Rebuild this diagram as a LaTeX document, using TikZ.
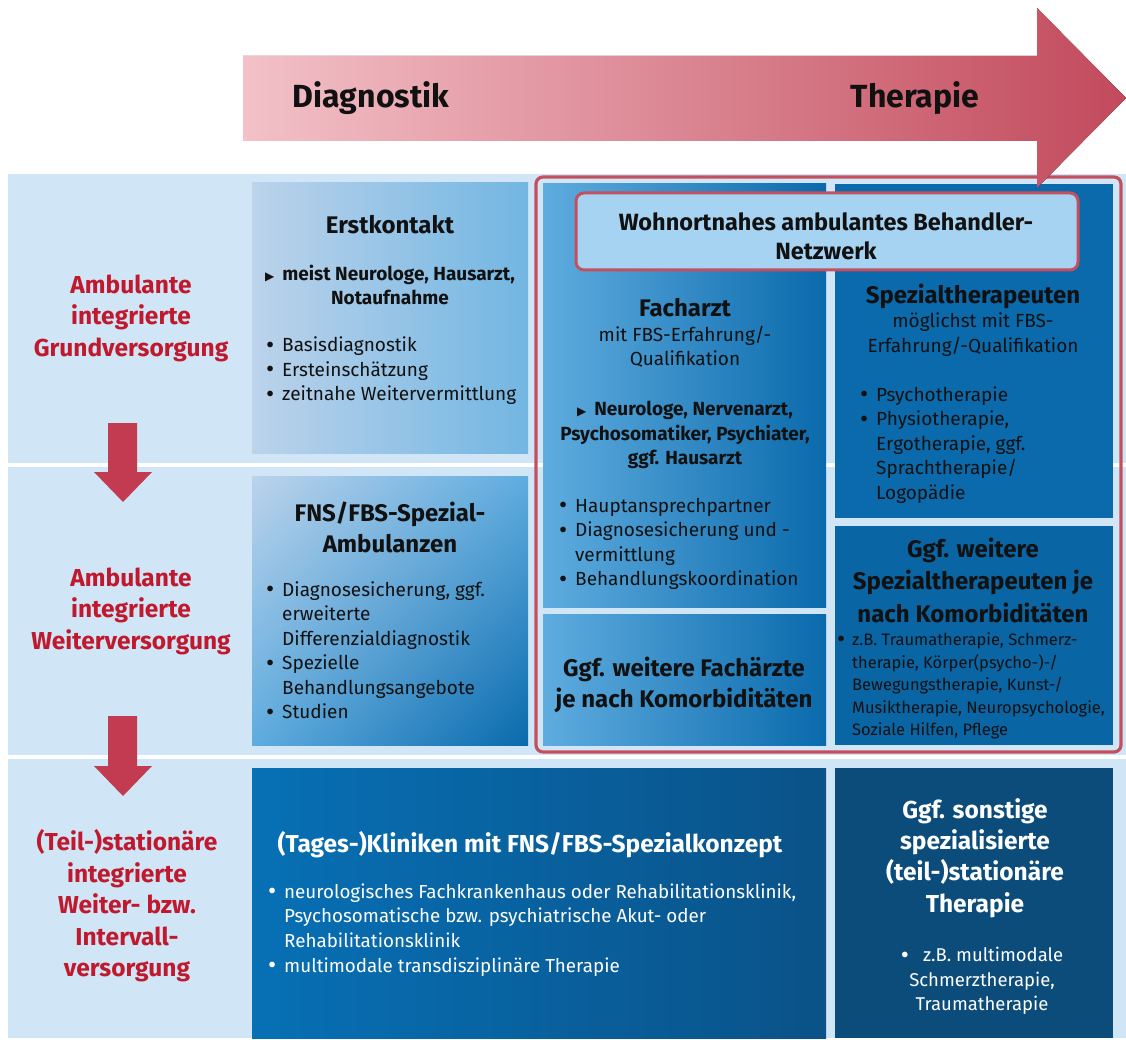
\documentclass[tikz,border=0pt]{standalone}
\usepackage{fontspec}
\usetikzlibrary{shadings}
\setmainfont{Fira Sans}
\newfontfamily\symfont{DejaVu Sans}
\definecolor{rowblue}{HTML}{D0E5F5}
\definecolor{labelred}{HTML}{C0192E}
\definecolor{arrowred}{HTML}{C23B50}
\definecolor{framered}{HTML}{C4505F}
\definecolor{ink}{HTML}{111111}
\definecolor{lightA}{HTML}{BCD3EB}
\definecolor{lightB}{HTML}{72B6E2}
\definecolor{midblue}{HTML}{5FACDF}
\definecolor{deepblue}{HTML}{0A6AAC}
\definecolor{netfill}{HTML}{A6D3F2}
\definecolor{clinicA}{HTML}{0770B5}
\definecolor{clinicB}{HTML}{0A5288}
\definecolor{navy}{HTML}{0B4C7B}
\definecolor{pinkA}{HTML}{F3C1C8}
\definecolor{pinkB}{HTML}{C24A5C}
\newcommand{\tri}{{\symfont\fontsize{12}{12}\selectfont ▶}\hspace{8pt}}
\newcommand{\bigdot}{\raisebox{-1.6pt}{\fontsize{25}{25}\selectfont •}}
\newcommand{\bul}{\makebox[16pt][l]{\bigdot}}
\newcommand{\ind}{\hspace*{16pt}}
\begin{document}
\begin{tikzpicture}[x=1pt,y=-1pt,
  hd/.style={font=\bfseries\fontsize{24}{31}\selectfont, align=center, text=ink, inner sep=0},
  sub/.style={font=\fontsize{19}{24.5}\selectfont, align=center, text=ink, inner sep=0},
  subbold/.style={font=\bfseries\fontsize{19}{24.5}\selectfont, align=center, text=ink, inner sep=0},
  lst/.style={font=\fontsize{19}{24.5}\selectfont, align=left, text=ink, anchor=west, inner sep=0},
  lbl/.style={font=\bfseries\fontsize{24.5}{31.5}\selectfont, align=center, text=labelred, inner sep=0},
  downarrow/.style={fill=arrowred},
]
\useasboundingbox (0,0) rectangle (1126,1040);
\fill[white] (0,0) rectangle (1126,1040);

% row backgrounds
\fill[rowblue] (8,174) rectangle (1126,463);
\fill[rowblue] (8,467) rectangle (1126,755);
\fill[rowblue] (8,759) rectangle (1126,1038);

% diagnostics column
\fill[left color=lightA, right color=lightB] (252,183) rectangle (528,453);
\fill[upper left=lightA, upper right=midblue, lower left=midblue, lower right=deepblue] (252,476) rectangle (528,745);

% outpatient network frame and its boxes
\fill[left color=midblue, right color=deepblue] (543,184) rectangle (826,607);
\fill[deepblue] (835,184) rectangle (1113,518);
\fill[left color=midblue, right color=deepblue] (543,614) rectangle (826,745);
\fill[deepblue!95!black] (835,526) rectangle (1113,745);
\draw[framered, line width=3.2pt, rounded corners=7pt] (536,177) rectangle (1121,752);
\draw[framered, line width=3pt, rounded corners=8pt, fill=netfill] (576,193) rectangle (1078,270);

% inpatient row
\fill[left color=clinicA, right color=clinicB] (252,768) rectangle (826,1038);
\fill[navy] (835,768) rectangle (1113,1038);

% downward arrows between rows
\fill[downarrow] (108,423) -- (137,423) -- (137,472) -- (152,472) -- (123,502) -- (94,472) -- (108,472) -- cycle;
\fill[downarrow] (108,716) -- (137,716) -- (137,766) -- (152,766) -- (123,796) -- (94,766) -- (108,766) -- cycle;

% process arrow
\fill[left color=pinkA, right color=pinkB] (243,56) -- (1037,56) -- (1037,8) -- (1126,98) -- (1037,188) -- (1037,141) -- (243,141) -- cycle;
\node[font=\bfseries\fontsize{32}{36}\selectfont, text=ink] (diag) at (371,98) {Diagnostik};
\node[font=\bfseries\fontsize{32}{36}\selectfont, text=ink] (ther) at (915,98) {Therapie};

% row labels
\node[lbl] (l1) at (131,318) {Ambulante\\integrierte\\Grundversorgung};
\node[lbl] (l2) at (131,611) {Ambulante\\integrierte\\Weiterversorgung};
\node[lbl] (l3) at (127,906) {(Teil-)stationäre\\integrierte\\Weiter- bzw.\\Intervall-\\versorgung};

% Erstkontakt
\node[hd] (ek) at (390,225) {Erstkontakt};
\node[subbold] (ekw) at (390,285) {\tri meist Neurologe, Hausarzt,\\Notaufnahme};
\node[lst] (ekl) at (266,371) {\bul Basisdiagnostik\\\bul Ersteinschätzung\\\bul zeitnahe Weitervermittlung};

% FNS/FBS outpatient clinics
\node[hd] (fns) at (390,527) {FNS/FBS-Spezial-\\Ambulanzen};
\node[lst] (fnsl) at (266,651) {\bul Diagnosesicherung, ggf.\\\ind erweiterte\\\ind Differenzialdiagnostik\\\bul Spezielle\\\ind Behandlungsangebote\\\bul Studien};

% network
\node[hd, font=\bfseries\fontsize{23.5}{29}\selectfont] (net) at (826,236) {Wohnortnahes ambulantes Behandler-\\Netzwerk};

\node[hd] (fa) at (685,308) {Facharzt};
\node[sub] (fas) at (685,347) {mit FBS-Erfahrung/-\\Qualifikation};
\node[subbold] (faw) at (685,435) {\tri Neurologe, Nervenarzt,\\Psychosomatiker, Psychiater,\\ggf. Hausarzt};
\node[lst] (fal) at (559,544) {\bul Hauptansprechpartner\\\bul Diagnosesicherung und -\\\ind vermittlung\\\bul Behandlungskoordination};

\node[hd] (st) at (973,296) {Spezialtherapeuten};
\node[sub] (sts) at (973,334.5) {möglichst mit FBS-\\Erfahrung/-Qualifikation};
\node[lst] (stl) at (860,445) {\bul Psychotherapie\\\bul Physiotherapie,\\\ind Ergotherapie, ggf.\\\ind Sprachtherapie/\\\ind Logopädie};

\node[hd] (wf) at (684,685) {Ggf. weitere Fachärzte\\je nach Komorbiditäten};

\node[hd, font=\bfseries\fontsize{24}{32.5}\selectfont] (ws) at (973,580) {Ggf. weitere\\Spezialtherapeuten je\\nach Komorbiditäten};
\node[lst, font=\fontsize{16.5}{22.5}\selectfont] (wsl) at (837,686) {\makebox[15pt][l]{\bigdot}z.B. Traumatherapie, Schmerz-\\\hspace*{15pt}therapie, Körper(psycho-)-/\\\hspace*{15pt}Bewegungstherapie, Kunst-/\\\hspace*{15pt}Musiktherapie, Neuropsychologie,\\\hspace*{15pt}Soziale Hilfen, Pflege};

% inpatient
\node[hd, text=white, font=\bfseries\fontsize{24.5}{31}\selectfont] (tk) at (530,845) {(Tages-)Kliniken mit FNS/FBS-Spezialkonzept};
\node[lst, text=white, font=\fontsize{18.8}{24.7}\selectfont] (tkl) at (268,930) {\bul neurologisches Fachkrankenhaus oder Rehabilitationsklinik,\\\ind Psychosomatische bzw. psychiatrische Akut- oder\\\ind Rehabilitationsklinik\\\bul multimodale transdisziplinäre Therapie};

\node[hd, text=white, font=\bfseries\fontsize{24.5}{31.3}\selectfont] (so) at (975,858) {Ggf. sonstige\\spezialisierte\\(teil-)stationäre\\Therapie};
\node[sub, text=white, font=\fontsize{18.5}{24.5}\selectfont] (sol) at (982,981) {\bigdot\hspace{14pt}z.B. multimodale\\Schmerztherapie,\\Traumatherapie};
\end{tikzpicture}
\end{document}
